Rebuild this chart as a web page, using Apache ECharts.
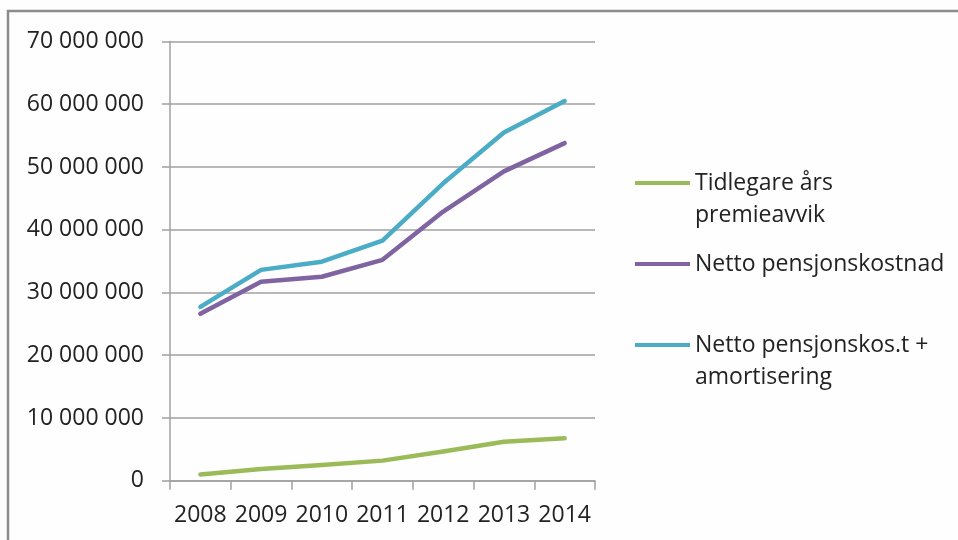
<!DOCTYPE html>
<html>
<head>
<meta charset="utf-8">
<script src="https://cdn.jsdelivr.net/npm/echarts@6/dist/echarts.min.js"></script>
<style>
html,body{margin:0;padding:0;background:#fefefe;}
#c{width:958px;height:540px;}
</style>
</head>
<body>
<div id="c"></div>
<script>
var years = ['2008','2009','2010','2011','2012','2013','2014'];
var tidlegare = [1000000, 1850000, 2500000, 3200000, 4650000, 6200000, 6750000];
var netto = [26600000, 31700000, 32500000, 35200000, 42900000, 49300000, 53800000];
var nettoAmort = [27700000, 33600000, 34900000, 38250000, 47400000, 55500000, 60500000];
var seriesNames = ['Tidlegare års\npremieavvik', 'Netto pensjonskostnad', 'Netto pensjonskos.t +\namortisering'];
var colors = ['#9BBB59', '#8064A2', '#4BACC6'];

var FONT = 'Open Sans';
var chart = echarts.init(document.getElementById('c'), null, {renderer: 'canvas'});

function legendFor(i, top, multiline) {
  return {
    data: [{name: seriesNames[i], icon: 'rect'}],
    left: 635,
    top: top,
    itemWidth: 55,
    itemHeight: 4,
    padding: 0,
    selectedMode: false,
    formatter: multiline ? function (n) { return '\n' + n; } : null,
    textStyle: {fontFamily: FONT, fontSize: 23, color: '#222', lineHeight: 32}
  };
}

function fmt(v) {
  return String(v).replace(/\B(?=(\d{3})+(?!\d))/g, ' ');
}

chart.setOption({
  animation: false,
  backgroundColor: '#fefefe',
  color: colors,
  grid: {left: 170, right: 363, top: 41.5, bottom: 59.3, containLabel: false},
  legend: [legendFor(0, 135, true), legendFor(1, 248, false), legendFor(2, 297, true)],
  xAxis: {
    type: 'category',
    data: years,
    boundaryGap: true,
    axisLine: {lineStyle: {color: '#a0a0a0', width: 1.5}},
    axisTick: {show: true, length: 9, lineStyle: {color: '#a0a0a0', width: 1.5}},
    axisLabel: {interval: 0, fontFamily: FONT, fontSize: 23, color: '#222', margin: 23}
  },
  yAxis: {
    type: 'value',
    min: 0, max: 70000000, interval: 10000000,
    axisLine: {show: true, lineStyle: {color: '#a0a0a0', width: 1.5}},
    axisTick: {show: true, length: 8, lineStyle: {color: '#a0a0a0', width: 1.5}},
    splitLine: {lineStyle: {color: '#a0a0a0', width: 1.5}},
    axisLabel: {fontFamily: FONT, fontSize: 23, color: '#222', margin: 26, formatter: fmt}
  },
  series: [
    {name: seriesNames[0], type: 'line', data: tidlegare, showSymbol: false, lineStyle: {width: 4.5, cap: 'round', join: 'round'}},
    {name: seriesNames[1], type: 'line', data: netto, showSymbol: false, lineStyle: {width: 4.5, cap: 'round', join: 'round'}},
    {name: seriesNames[2], type: 'line', data: nettoAmort, showSymbol: false, lineStyle: {width: 4.5, cap: 'round', join: 'round'}}
  ],
  graphic: [
    {type: 'polyline', silent: true, shape: {points: [[8, 540], [8, 11], [958, 11]]},
     style: {stroke: '#8c8c8c', lineWidth: 2.5, fill: null}}
  ]
});
</script>
</body>
</html>
